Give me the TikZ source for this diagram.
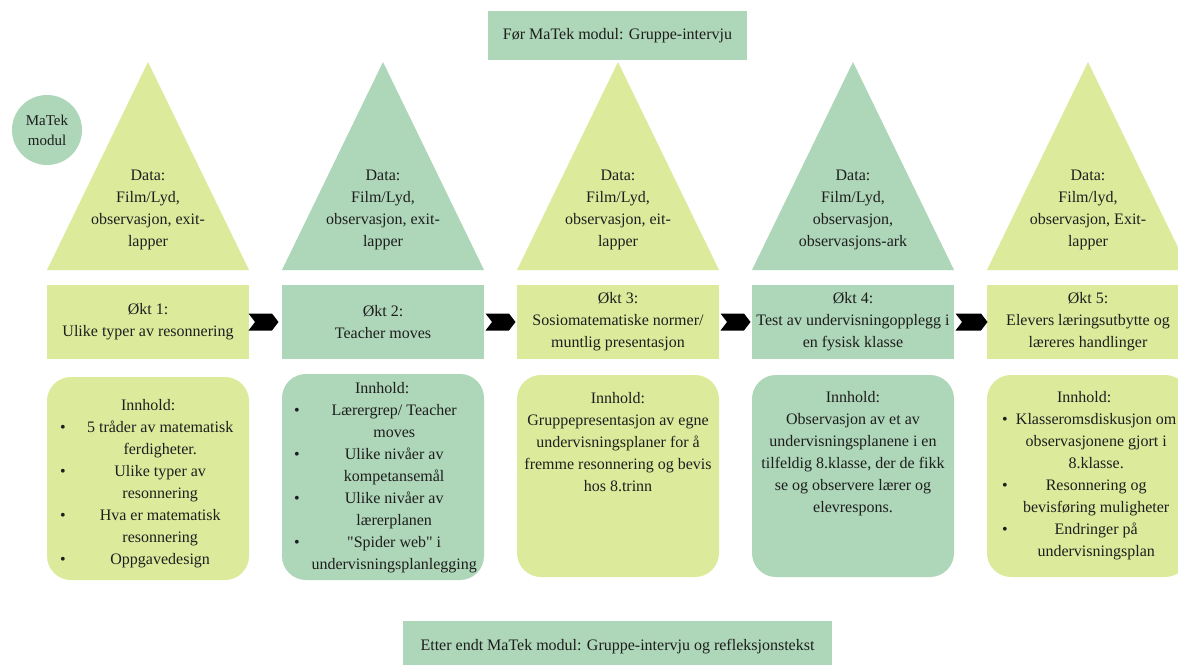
\documentclass[tikz,border=0pt]{standalone}
\usepackage{fontspec}
\usepackage{array}
\setmainfont{Liberation Serif}
\newfontfamily\rawserif{Liberation Serif}
\usetikzlibrary{shapes.symbols,calc}

\definecolor{lime}{RGB}{220,234,156}
\definecolor{sage}{RGB}{174,214,184}
\definecolor{ink}{RGB}{30,30,30}

% centred stack of lines whose baseline is the first line
\newcommand{\stack}[1]{\begin{tabular}[t]{@{}c@{}}#1\end{tabular}}
% bullet list: bullet column + centred text column
\newcommand{\blist}[2][180pt]{\begin{tabular}[t]{@{}p{10pt}@{}>{\centering\arraybackslash}p{#1}@{}}#2\end{tabular}}
\newcommand{\head}{\multicolumn{2}{@{}c@{}}{\hspace*{-14pt}Innhold:}}
\newcommand{\dq}{{\rawserif"}}

\begin{document}
\begin{tikzpicture}[x=1pt,y=-1pt,
  every node/.style={text=ink, inner sep=0pt, font=\fontsize{16}{22}\selectfont},
  banner/.style={rectangle, minimum height=49pt},
  oktbox/.style={rectangle, minimum width=202pt, minimum height=74pt, align=center},
  card/.style={rectangle, rounded corners=24pt, minimum width=202pt},
  chev/.style={signal, signal to=east, signal from=west, signal pointer angle=105,
               fill=black, minimum width=30pt, minimum height=17pt}]

\useasboundingbox (0,0) rectangle (1178,664);
\clip (0,0) rectangle (1178,664);
\fill[white] (0,0) rectangle (1178,664);

% banners before and after the module
\node[banner, fill=sage, minimum width=259pt] (pre) at (617.5,35.5) {Før MaTek modul: Gruppe-intervju};
\node[banner, fill=sage, minimum width=429pt, minimum height=52pt] (post) at (617.5,647)
  {Etter endt MaTek modul: Gruppe-intervju og refleksjonstekst};

% module label
\node[circle, fill=sage, minimum size=70pt, align=center,
      font=\fontsize{15}{20}\selectfont] (mod) at (47,130) {MaTek\\modul};

% data triangles
\fill[lime] (47,270)  -- (148,62)  -- (249,270)  -- cycle;
\fill[sage] (282,270) -- (383,62)  -- (484,270)  -- cycle;
\fill[lime] (517,270) -- (618,62)  -- (719,270)  -- cycle;
\fill[sage] (752,270) -- (853,62)  -- (954,270)  -- cycle;
\fill[lime] (987,270) -- (1088,62) -- (1189,270) -- cycle;

\node[anchor=base] (d1) at (148,180) {\stack{Data:\\Film/Lyd,\\observasjon, exit-\\lapper}};
\node[anchor=base] (d2) at (383,180) {\stack{Data:\\Film/Lyd,\\observasjon, exit-\\lapper}};
\node[anchor=base] (d3) at (618,180) {\stack{Data:\\Film/Lyd,\\observasjon, eit-\\lapper}};
\node[anchor=base] (d4) at (853,180) {\stack{Data:\\Film/Lyd,\\observasjon,\\observasjons-ark}};
\node[anchor=base] (d5) at (1088,180) {\stack{Data:\\Film/lyd,\\observasjon, Exit-\\lapper}};

% sessions
\node[oktbox, fill=lime] (o1) at (148,322)  {Økt 1:\\Ulike typer av resonnering};
\node[oktbox, fill=sage] (o2) at (383,322)  {Økt 2:\\Teacher moves};
\node[oktbox, fill=lime] (o3) at (618,322)  {Økt 3:\\Sosiomatematiske normer/\\muntlig presentasjon};
\node[oktbox, fill=sage] (o4) at (853,322)  {Økt 4:\\Test av undervisningopplegg i\\en fysisk klasse};
\node[oktbox, fill=lime] (o5) at (1088,322) {Økt 5:\\Elevers læringsutbytte og\\læreres handlinger};

% chevrons between sessions
\node[chev] (c12) at ($(o1.east)!0.5!(o2.west)+(-2,0)$) {};
\node[chev] (c23) at ($(o2.east)!0.5!(o3.west)$) {};
\node[chev] (c34) at ($(o3.east)!0.5!(o4.west)$) {};
\node[chev, minimum width=32pt] (c45) at ($(o4.east)!0.5!(o5.west)+(1,0)$) {};

% content cards
\node[card, fill=lime, minimum height=203pt] (k1) at (148,478.5)  {};
\node[card, fill=sage, minimum height=206pt] (k2) at (383,477)    {};
\node[card, fill=lime, minimum height=202pt] (k3) at (618,476)    {};
\node[card, fill=sage, minimum height=202pt] (k4) at (853,476)    {};
\node[card, fill=lime, minimum height=202pt] (k5) at (1088,476)   {};

\node[anchor=base west] (t1) at (60,410) {\blist{\head\\
  \textbullet & 5 tråder av matematisk\\ & ferdigheter.\\
  \textbullet & Ulike typer av\\ & resonnering\\
  \textbullet & Hva er matematisk\\ & resonnering\\
  \textbullet & Oppgavedesign}};

\node[anchor=base west] (t2) at (294,393) {\blist{\head\\
  \textbullet & Lærergrep/ Teacher\\ & moves\\
  \textbullet & Ulike nivåer av\\ & kompetansemål\\
  \textbullet & Ulike nivåer av\\ & lærerplanen\\
  \textbullet & \dq Spider web\dq\ i\\ & undervisningsplanlegging}};

\node[anchor=base] (t3) at (618,403) {\stack{Innhold:\\Gruppepresentasjon av egne\\undervisningsplaner for å\\fremme resonnering og bevis\\hos 8.trinn}};

\node[anchor=base] (t4) at (853,402) {\stack{Innhold:\\Observasjon av et av\\undervisningsplanene i en\\tilfeldig 8.klasse, der de fikk\\se og observere lærer og\\elevrespons.}};

\node[anchor=base west] (t5) at (1002,402) {\blist[168pt]{\head\\
  \textbullet & Klasseromsdiskusjon om\\ & observasjonene gjort i\\ & 8.klasse.\\
  \textbullet & Resonnering og\\ & bevisføring muligheter\\
  \textbullet & Endringer på\\ & undervisningsplan}};

\end{tikzpicture}
\end{document}
